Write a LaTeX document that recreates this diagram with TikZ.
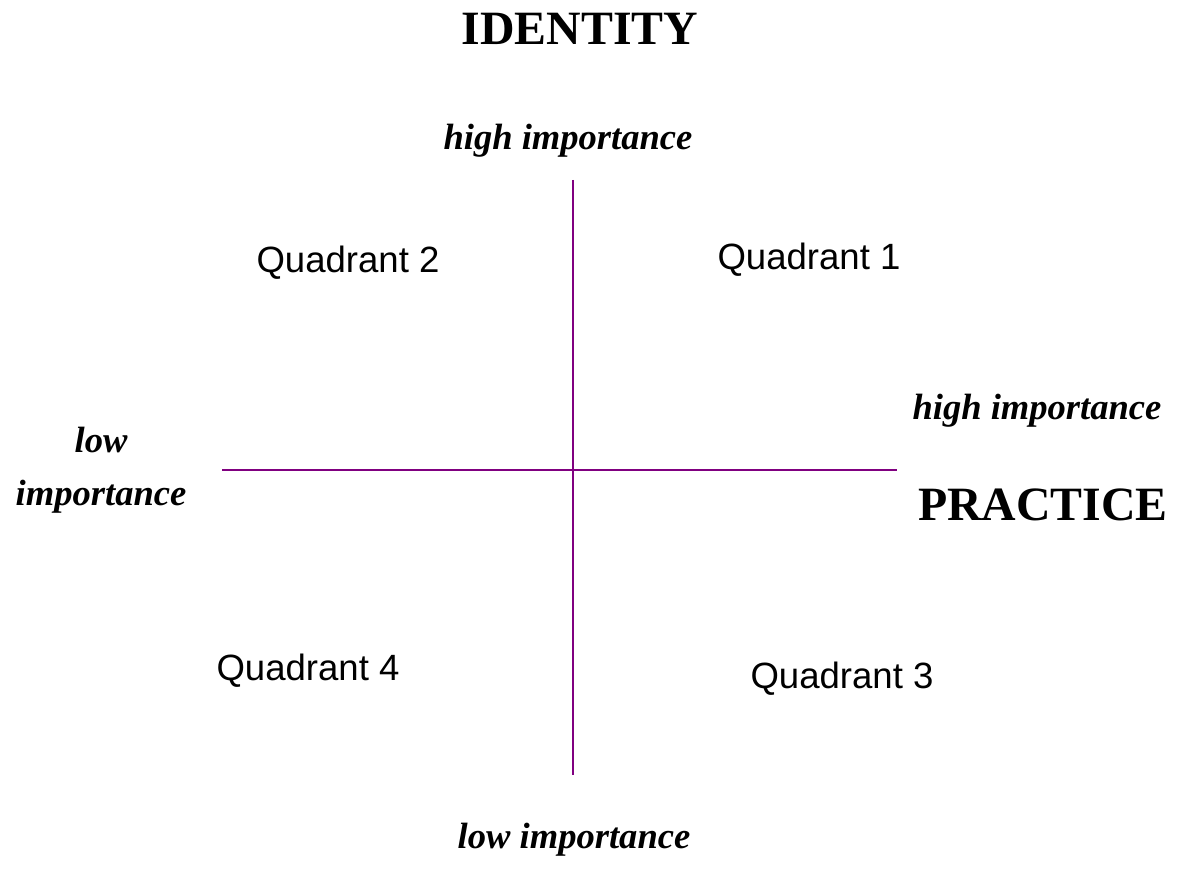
\documentclass[tikz,border=0pt]{standalone}
\usepackage{fontspec}
\setmainfont{Liberation Serif}
\setsansfont{Liberation Sans}
\definecolor{axispurple}{RGB}{128,0,128}

\begin{document}
\begin{tikzpicture}[x = 0.025cm, y = -0.025cm,
    every node/.style = {anchor = base, inner sep = 0pt},
    axis/.style = {draw = axispurple, line width = 2.1pt},
    heading/.style = {font = \fontsize{34}{40}\selectfont\bfseries},
    pole/.style = {font = \fontsize{26}{37.7}\selectfont\bfseries\itshape, align = center},
    quad/.style = {font = \fontsize{26}{31}\selectfont\sffamily}]
    \useasboundingbox (0, 0) rectangle (1177, 872);
    % axis ends
    \coordinate (top) at (573, 180);
    \coordinate (bottom) at (573, 775);
    \coordinate (left) at (222, 470);
    \coordinate (right) at (897, 470);
    \draw[axis] (top) -- (bottom);
    \draw[axis] (left) -- (right);
    % the two dimensions
    \node[heading] (identity) at (580, 45) {IDENTITY};
    \node[heading] (practice) at (1043, 520) {PRACTICE};
    % ends of each scale
    \node[pole] (idhigh) at (568, 150) {high importance};
    \node[pole] (idlow) at (574, 848) {low importance};
    \node[pole] (prhigh) at (1037, 420) {high importance};
    \node[pole, anchor = center] (prlow) at (101, 470) {low\\importance};
    % quadrant labels
    \node[quad] (q1) at (809, 270) {Quadrant 1};
    \node[quad] (q2) at (348, 273) {Quadrant 2};
    \node[quad] (q3) at (842, 688) {Quadrant 3};
    \node[quad] (q4) at (308, 680) {Quadrant 4};
\end{tikzpicture}
\end{document}
